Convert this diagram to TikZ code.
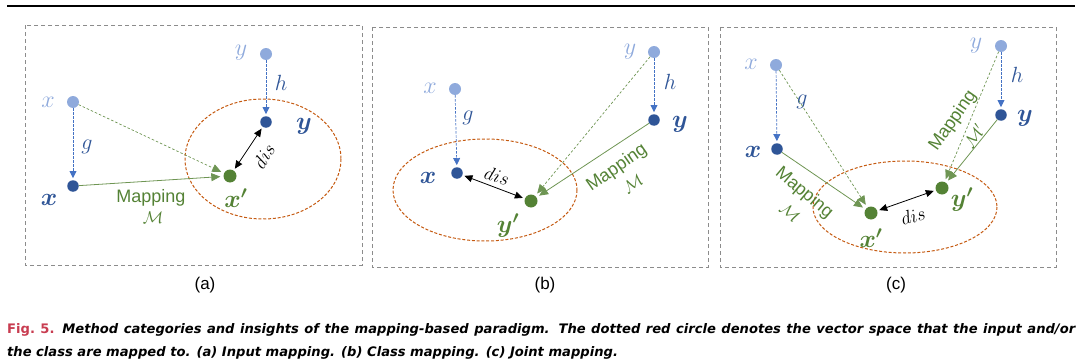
\documentclass[tikz,border=0pt]{standalone}
\usepackage{fix-cm}
\usepackage{amsmath}
\usepackage{bm}
\usepackage{fontspec}
\newfontfamily\arialf{Liberation Sans}
\newfontfamily\capfont{DejaVu Sans}
\usetikzlibrary{arrows.meta,shapes.geometric}
\definecolor{lblue}{HTML}{8FAADC}
\definecolor{dblue}{HTML}{2F5597}
\definecolor{mblue}{HTML}{4472C4}
\definecolor{dgreen}{HTML}{548235}
\definecolor{orng}{HTML}{C55A11}
\definecolor{figred}{RGB}{200,60,80}
\definecolor{boxgray}{HTML}{8C8C8C}
\tikzset{
  lightdot/.style={circle,fill=lblue,inner sep=0pt,minimum size=12pt},
  darkdot/.style={circle,fill=dblue,inner sep=0pt,minimum size=11.5pt},
  greendot/.style={circle,fill=dgreen,inner sep=0pt,minimum size=13pt},
  lbl/.style={inner sep=0pt,font=\fontsize{24}{28}\selectfont},
  glbl/.style={inner sep=0pt,font=\fontsize{22}{26}\selectfont},
  blbl/.style={inner sep=0pt,font=\fontsize{25}{30}\selectfont},
  dislbl/.style={inner sep=0pt,font=\fontsize{19}{23}\selectfont},
  maplbl/.style={inner sep=0pt,text=dgreen,font=\arialf\fontsize{18}{21}\selectfont},
  mcal/.style={inner sep=0pt,text=dgreen,font=\fontsize{17}{20}\selectfont},
  sublbl/.style={inner sep=0pt,font=\arialf\fontsize{17}{20}\selectfont},
  bluearr/.style={draw=mblue,line width=0.7pt,dash pattern=on 2.5pt off 1.5pt,-{Triangle[length=7pt,width=7pt]},shorten >=2pt},
  greendash/.style={draw=dgreen!85,line width=0.7pt,dash pattern=on 2.5pt off 2pt,-{Triangle[length=9pt,width=8pt]},shorten >=3pt},
  greensolid/.style={draw=dgreen!85,line width=0.8pt,-{Triangle[length=9pt,width=8pt]},shorten >=3pt},
  disarr/.style={draw=black,line width=0.8pt,{Triangle[length=8pt,width=7pt]}-{Triangle[length=8pt,width=7pt]},shorten >=2pt,shorten <=2pt},
  panelbox/.style={draw=boxgray,line width=0.9pt,dash pattern=on 4pt off 3pt},
  space/.style={draw=orng,line width=1pt,dash pattern=on 3pt off 1.8pt},
  capline/.style={anchor=base west,inner sep=0pt,font=\capfont\fontsize{13.1}{16}\selectfont}
}
\begin{document}
\begin{tikzpicture}[x=1pt,y=-1pt]
\useasboundingbox (0,0) rectangle (1080,364);
\draw[line width=1.4pt] (7,6) -- (1075,6);

% ---------- panel (a)
\draw[panelbox] (25,25) rectangle (362,265);
\draw[space] (263,159) ellipse [x radius=78, y radius=60];
\node[lightdot] (alx) at (73,102) {};
\node[lightdot] (aly) at (266,54) {};
\node[darkdot] (adx) at (73,186) {};
\node[darkdot] (ady) at (266,122) {};
\node[greendot] (axp) at (230,176) {};
\node[lbl,text=lblue] (alxl) at (48,102) {$x$};
\node[lbl,text=lblue] (alyl) at (241,53) {$y$};
\node[blbl,text=dblue] (adxl) at (49,200) {$\bm{x}$};
\node[blbl,text=dblue] (adyl) at (304,126) {$\bm{y}$};
\node[blbl,text=dgreen] (axpl) at (236,198) {$\bm{x'}$};
\node[glbl,text=dblue] (ag) at (87,147) {$g$};
\node[glbl,text=dblue] (ah) at (281,83) {$h$};
\draw[bluearr] (alx) -- (adx);
\draw[bluearr] (aly) -- (ady);
\draw[greendash] (alx) -- (axp);
\draw[greensolid] (adx) -- (axp);
\draw[disarr] (axp) -- (ady);
\node[dislbl,rotate=58] (adis) at (264,156) {$dis$};
\node[maplbl] (amap) at (151,198) {Mapping};
\node[mcal] (amc) at (153,218) {$\mathcal{M}$};
\node[sublbl] (acap) at (205,285) {(a)};

% ---------- panel (b)
\draw[panelbox] (372,27) rectangle (708,267);
\draw[space] (485,190) ellipse [x radius=92, y radius=51];
\node[lightdot] (blx) at (455,89) {};
\node[lightdot] (bly) at (654,52) {};
\node[darkdot] (bdx) at (457,173) {};
\node[darkdot] (bdy) at (654,120) {};
\node[greendot] (byp) at (531,201) {};
\node[lbl,text=lblue] (blxl) at (430,88) {$x$};
\node[lbl,text=lblue] (blyl) at (630,52) {$y$};
\node[blbl,text=dblue] (bdxl) at (428,178) {$\bm{x}$};
\node[blbl,text=dblue] (bdyl) at (680,124) {$\bm{y}$};
\node[blbl,text=dgreen] (bypl) at (508,226) {$\bm{y'}$};
\node[glbl,text=dblue] (bg) at (468,118) {$g$};
\node[glbl,text=dblue] (bh) at (670,82) {$h$};
\draw[bluearr] (blx) -- (bdx);
\draw[bluearr] (bly) -- (bdy);
\draw[greendash] (bly) -- (byp);
\draw[greensolid] (bdy) -- (byp);
\draw[disarr] (bdx) -- (byp);
\node[dislbl,rotate=-17] (bdis) at (497,176) {$dis$};
\node[maplbl,rotate=35] (bmap) at (617,168) {Mapping};
\node[mcal,rotate=35] (bmc) at (633,184) {$\mathcal{M}$};
\node[sublbl] (bcap) at (545,285) {(b)};

% ---------- panel (c)
\draw[panelbox] (720,27) rectangle (1056,267);
\draw[space] (905,207) ellipse [x radius=92, y radius=46];
\node[lightdot] (clx) at (776,65) {};
\node[lightdot] (cly) at (1001,46) {};
\node[darkdot] (cdx) at (777,149) {};
\node[darkdot] (cdy) at (1001,115) {};
\node[greendot] (cxp) at (871,213) {};
\node[greendot] (cyp) at (942,188) {};
\node[lbl,text=lblue] (clxl) at (751,64) {$x$};
\node[lbl,text=lblue] (clyl) at (976,46) {$y$};
\node[blbl,text=dblue] (cdxl) at (753,152) {$\bm{x}$};
\node[blbl,text=dblue] (cdyl) at (1025,118) {$\bm{y}$};
\node[blbl,text=dgreen] (cxpl) at (871,238) {$\bm{x'}$};
\node[blbl,text=dgreen] (cypl) at (962,200) {$\bm{y'}$};
\node[glbl,text=dblue] (cg) at (802,102) {$g$};
\node[glbl,text=dblue] (ch) at (1017,75) {$h$};
\draw[bluearr] (clx) -- (cdx);
\draw[bluearr] (cly) -- (cdy);
\draw[greendash] (clx) -- (cxp);
\draw[greensolid] (cdx) -- (cxp);
\draw[greendash] (cly) -- (cyp);
\draw[greensolid] (cdy) -- (cyp);
\draw[disarr] (cxp) -- (cyp);
\node[dislbl,rotate=17] (cdis) at (913,216) {$dis$};
\node[maplbl,rotate=-40] (cmap1) at (804,193) {Mapping};
\node[mcal,rotate=-40] (cmc1) at (790,213) {$\mathcal{M}$};
\node[maplbl,rotate=55] (cmap2) at (953,121) {Mapping};
\node[mcal,rotate=55] (cmc2) at (974,136) {$\mathcal{M}'$};
\node[sublbl] (ccap) at (896,285) {(c)};

% ---------- caption
\node[capline] (cap1) at (7,333)
  {\makebox[1068pt][s]{\textcolor{figred}{\bfseries Fig.~5.}\hspace{0.6em}{\bfseries\itshape Method categories and insights of the mapping-based paradigm. The dotted red circle denotes the vector space that the input and/or}}};
\node[capline] (cap2) at (7,356)
  {\bfseries\itshape the class are mapped to. (a) Input mapping. (b) Class mapping. (c) Joint mapping.};
\end{tikzpicture}
\end{document}
